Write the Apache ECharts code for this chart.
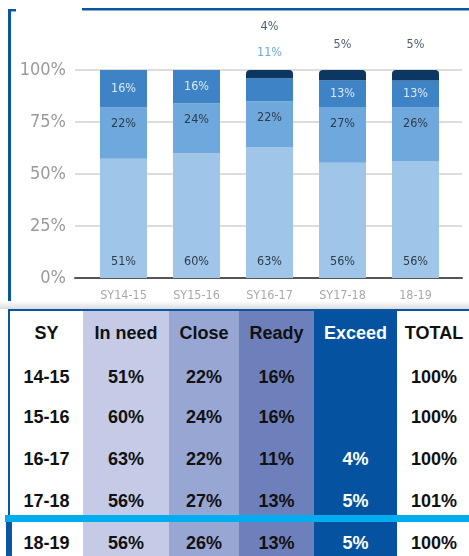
<!DOCTYPE html>
<html>
<head>
<meta charset="utf-8">
<script src="https://cdn.jsdelivr.net/npm/echarts@6/dist/echarts.min.js"></script>
<style>
  html, body { margin: 0; padding: 0; background: #fff; }
  #wrap { position: relative; width: 469px; height: 556px; overflow: hidden; }
  #chart { position: absolute; left: 0; top: 0; width: 469px; height: 310px; }
  #shade { position: absolute; left: 0; top: 301px; width: 469px; height: 8px;
           background: linear-gradient(#fff, #dcdcdc); }
  #table { position: absolute; left: 0; top: 309px; width: 469px; height: 247px;
           font-family: 'Liberation Sans', Arial, sans-serif; font-weight: bold; font-size: 18px; }
  #table div { position: absolute; }
  .cell { text-align: center; line-height: 20px; height: 20px; color: #111; }
</style>
</head>
<body>
<div id="wrap">
  <div id="chart"></div>
  <div id="shade"></div>
  <div id="table"></div>
</div>
<script>
// 学年 / 各档百分比（原图读数）
const years = ['SY14-15', 'SY15-16', 'SY16-17', 'SY17-18', '18-19'];
const rowLabels = ['14-15', '15-16', '16-17', '17-18', '18-19'];
const inNeed = [51, 60, 63, 56, 56];
const close = [22, 24, 22, 27, 26];
const ready = [16, 16, 11, 13, 13];
const exceed = [null, null, 4, 5, 5];
const totals = [100, 100, 100, 101, 100];
const headers = ['SY', 'In need', 'Close', 'Ready', 'Exceed', 'TOTAL'];

const narrow = "'Liberation Sans Narrow', 'DejaVu Sans Condensed', sans-serif";

// 每根柱子按合计归一化到100%
const sums = years.map((y, i) => inNeed[i] + close[i] + ready[i] + (exceed[i] || 0));
function norm(arr) {
  return arr.map((v, i) => v == null ? null : { value: v / sums[i] * 100, raw: v });
}
const rawFmt = p => p.data && p.data.raw != null ? p.data.raw + '%' : '';

let readyData = norm(ready);
readyData[2].label = { position: 'top', distance: 19, color: '#6fa8dc' };
let exceedData = norm(exceed);
exceedData[2].label = { distance: 37 };

let myChart = echarts.init(document.getElementById('chart'));
let option = {
  animation: false,
  grid: [
    { left: 75, right: 7, top: 70, height: 208 },
    { left: 87, width: 365, top: 70, height: 208 }
  ],
  xAxis: [
    {
      gridIndex: 0, type: 'category', data: [''],
      axisLine: { lineStyle: { color: '#555', width: 2 } },
      axisTick: { show: false }, axisLabel: { show: false }
    },
    {
      gridIndex: 1, type: 'category', data: years,
      axisLine: { show: false }, axisTick: { show: false },
      axisLabel: { margin: 11, color: '#a8a8a8', fontSize: 12.5, fontFamily: narrow }
    }
  ],
  yAxis: [
    {
      gridIndex: 0, type: 'value', min: 0, max: 100, interval: 25,
      axisLine: { show: false }, axisTick: { show: false },
      axisLabel: { formatter: '{value}%', margin: 9, color: '#9a9a9a', fontSize: 18, fontFamily: narrow },
      splitLine: { lineStyle: { color: '#d2d2d2', width: 1.5 } }
    },
    {
      gridIndex: 1, type: 'value', min: 0, max: 100, interval: 25, show: false,
      splitLine: { show: false }
    }
  ],
  series: [
    {
      name: 'In need', type: 'bar', stack: 'a', xAxisIndex: 1, yAxisIndex: 1,
      barWidth: 47, color: '#9fc5e8', data: norm(inNeed),
      label: { show: true, position: 'insideBottom', distance: 10, formatter: rawFmt,
               color: '#2e3b4a', fontSize: 12.5, fontFamily: narrow }
    },
    {
      name: 'Close', type: 'bar', stack: 'a', xAxisIndex: 1, yAxisIndex: 1,
      barWidth: 47, color: '#6fa8dc', data: norm(close),
      label: { show: true, position: 'insideTop', distance: 10, formatter: rawFmt,
               color: '#2e3b4a', fontSize: 12.5, fontFamily: narrow }
    },
    {
      name: 'Ready', type: 'bar', stack: 'a', xAxisIndex: 1, yAxisIndex: 1,
      barWidth: 47, color: '#3d83c6', data: readyData,
      label: { show: true, position: 'inside', formatter: rawFmt,
               color: '#dce8f6', fontSize: 12.5, fontFamily: narrow }
    },
    {
      name: 'Exceed', type: 'bar', stack: 'a', xAxisIndex: 1, yAxisIndex: 1,
      barWidth: 47, color: '#0b3762', data: exceedData,
      itemStyle: { borderRadius: [4, 4, 0, 0] },
      label: { show: true, position: 'top', distance: 19, formatter: rawFmt,
               color: '#4d5d72', fontSize: 12.5, fontFamily: narrow }
    }
  ],
  graphic: [
    { type: 'rect', shape: { x: 8, y: 9, width: 3, height: 294 }, style: { fill: '#0a56a5' } },
    { type: 'rect', shape: { x: 8, y: 9, width: 8, height: 2.5 }, style: { fill: '#0a56a5' } },
    { type: 'rect', shape: { x: 82, y: 8, width: 387, height: 2.5 }, style: { fill: '#0a56a5' } }
  ]
};
myChart.setOption(option);

// 下方数据表
const tbl = document.getElementById('table');
const colX = [10, 83, 169, 239, 314, 397, 471];
const colBg = ['#ffffff', '#c5cbe6', '#98a6d4', '#6e80bc', '#0552a0', '#ffffff'];
const rowY = [24, 68, 108, 150, 192, 234]; // 文本中心（相对表格顶部）

function add(style, text, cls) {
  let d = document.createElement('div');
  if (cls) d.className = cls;
  Object.assign(d.style, style);
  if (text != null) d.textContent = text;
  tbl.appendChild(d);
  return d;
}
colBg.forEach((c, j) => {
  add({ left: colX[j] + 'px', top: '2px', width: (colX[j + 1] - colX[j]) + 'px', height: '245px', background: c });
});
// 边框与分隔线
add({ left: '8px', top: '0px', width: '461px', height: '2px', background: '#0a56a5' });
add({ left: '8px', top: '0px', width: '2px', height: '206px', background: '#0a56a5' });
add({ left: '5px', top: '206px', width: '464px', height: '7px', background: '#00adef' });
add({ left: '6px', top: '213px', width: '6px', height: '34px', background: '#0a56a5' });

const rows = [headers].concat(rowLabels.map((r, i) => [
  r, inNeed[i] + '%', close[i] + '%', ready[i] + '%',
  exceed[i] == null ? '' : exceed[i] + '%', totals[i] + '%'
]));
rows.forEach((row, i) => {
  row.forEach((t, j) => {
    add({
      left: colX[j] + 'px', width: (colX[j + 1] - colX[j]) + 'px',
      top: (rowY[i] - 10) + 'px', color: j === 4 ? '#ffffff' : '#111111'
    }, t, 'cell');
  });
});
</script>
</body>
</html>
